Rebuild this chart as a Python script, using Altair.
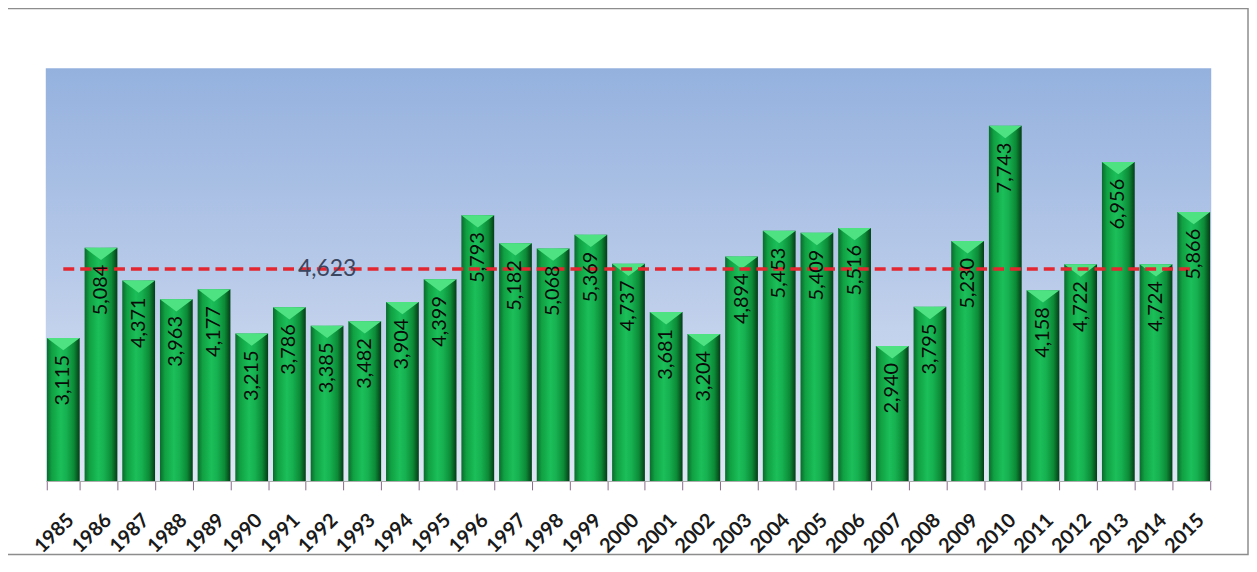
import altair as alt
import pandas as pd

years = ["1985", "1986", "1987", "1988", "1989", "1990", "1991", "1992",
         "1993", "1994", "1995", "1996", "1997", "1998", "1999", "2000",
         "2001", "2002", "2003", "2004", "2005", "2006", "2007", "2008",
         "2009", "2010", "2011", "2012", "2013", "2014", "2015"]
gwh = [3115, 5084, 4371, 3963, 4177, 3215, 3786, 3385,
       3482, 3904, 4399, 5793, 5182, 5068, 5369, 4737,
       3681, 3204, 4894, 5453, 5409, 5516, 2940, 3795,
       5230, 7743, 4158, 4722, 6956, 4724, 5866]
average = 4623
average_label_year = "1992"
title_text = "DOMESTIC GENERATION HISTORY 1985-2015 (GWh)"

W, H = 1172, 415

df = pd.DataFrame({"year": years, "gwh": gwh, "avg": [average] * len(years)})
avg_df = pd.DataFrame({"year": [average_label_year], "avg": [average]})
one = pd.DataFrame({"k": [1]})

xs = alt.X("year:O",
           scale=alt.Scale(paddingInner=0.13, paddingOuter=0.03),
           axis=alt.Axis(title=None, labelAngle=-45, labelFont="Lato",
                         labelFontSize=20, labelFontWeight="bold",
                         labelColor="#1a1a1a", tickBand="extent",
                         tickSize=9, tickColor="#8a6a8a",
                         domainColor="#a0a0a0", labelPadding=20))
ys = alt.Y("gwh:Q", scale=alt.Scale(domain=[0, 9000]), axis=None)
ya = alt.Y("avg:Q", scale=alt.Scale(domain=[0, 9000]), axis=None)

bg = alt.Chart(one).mark_rect(
    color=alt.Gradient(gradient="linear", x1=0, x2=0, y1=0, y2=1,
                       stops=[alt.GradientStop(color="#94b1de", offset=0),
                              alt.GradientStop(color="#b8cae9", offset=0.5),
                              alt.GradientStop(color="#dfe7f5", offset=1)])
).encode(x=alt.value(0), x2=alt.value(W), y=alt.value(0), y2=alt.value(H))

frame = alt.Chart(one).mark_rect(
    filled=False, stroke="#8d8d8d", strokeWidth=1.5
).encode(x=alt.value(-39), x2=alt.value(1209), y=alt.value(-60), y2=alt.value(489))

bar_grad = alt.Gradient(gradient="linear", x1=0, x2=1, y1=0, y2=0,
                        stops=[alt.GradientStop(color="#0a6a2c", offset=0),
                               alt.GradientStop(color="#10a042", offset=0.15),
                               alt.GradientStop(color="#1bbf5a", offset=0.42),
                               alt.GradientStop(color="#16b050", offset=0.6),
                               alt.GradientStop(color="#0c8a36", offset=0.82),
                               alt.GradientStop(color="#043c16", offset=1)])

base = alt.Chart(df)
bars = base.mark_bar(color=bar_grad).encode(x=xs, y=ys)

tops = base.mark_point(
    shape="M-1,0L1,0L0,0.75Z", filled=True, size=1089, opacity=1,
    color="#4fe283", strokeWidth=0
).encode(x=xs, y=ys)

avg_line = base.mark_line(color="#e3262f", strokeWidth=3.5,
                          strokeDash=[11, 6]).encode(x=xs, y=ya)

labels = base.mark_text(angle=270, align="right", baseline="middle", dx=-17,
                        font="Lato", fontSize=20, color="#0a0a0a").encode(
    x=xs, y=ys, text=alt.Text("gwh:Q", format=","))

avg_text = alt.Chart(avg_df).mark_text(
    font="Lato", fontSize=23, color="#3b4660", baseline="middle", align="center"
).encode(x=xs, y=ya, text=alt.Text("avg:Q", format=","))

chart = alt.layer(bg, frame, bars, tops, avg_line, labels, avg_text).properties(
    width=W, height=H,
    title=alt.TitleParams(title_text, font="Lato", fontSize=26,
                          fontWeight="bold", color="#111111", anchor="middle",
                          frame="group", offset=5),
    autosize=alt.AutoSizeParams(type="none"),
    padding={"left": 38, "top": 59, "right": 38, "bottom": 76},
    background="white",
).configure_view(strokeWidth=0)

chart.save("out.html", embed_options={"renderer": "svg", "actions": False})
